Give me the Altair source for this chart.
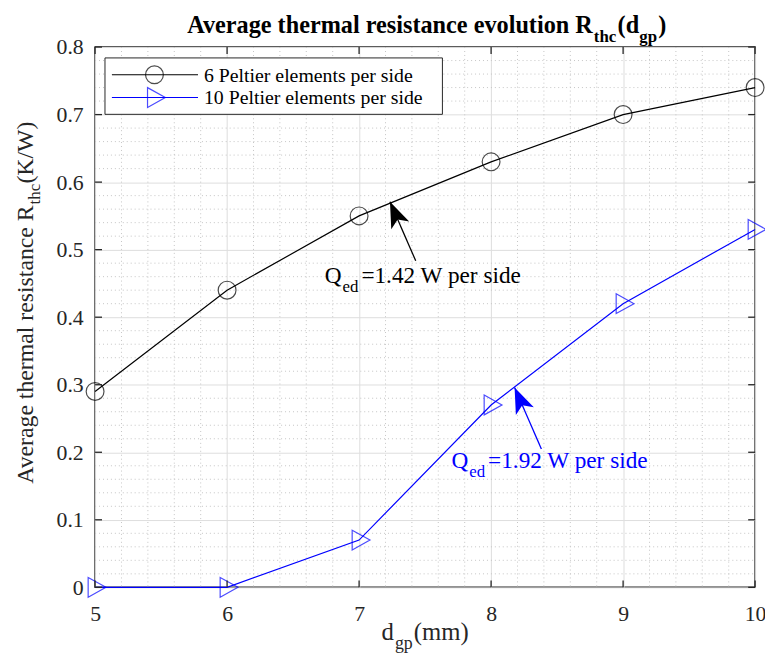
import altair as alt
import pandas as pd

# ---------------- data ----------------
x_dgp = [5, 6, 7, 8, 9, 10]
r_6 = [0.29, 0.44, 0.55, 0.63, 0.70, 0.74]
r_10 = [0.0, 0.0, 0.07, 0.27, 0.42, 0.53]
series_names = ["6 Peltier elements per side", "10 Peltier elements per side"]
series_colors = ["#000000", "#0000ff"]

x_major = [5, 6, 7, 8, 9, 10]
y_major = [0, 0.1, 0.2, 0.3, 0.4, 0.5, 0.6, 0.7, 0.8]
x_minor = [5.2, 5.4, 5.6, 5.8, 6.2, 6.4, 6.6, 6.8, 7.2, 7.4, 7.6, 7.8,
           8.2, 8.4, 8.6, 8.8, 9.2, 9.4, 9.6, 9.8]
y_minor = [0.02, 0.04, 0.06, 0.08, 0.12, 0.14, 0.16, 0.18, 0.22, 0.24, 0.26, 0.28,
           0.32, 0.34, 0.36, 0.38, 0.42, 0.44, 0.46, 0.48, 0.52, 0.54, 0.56, 0.58,
           0.62, 0.64, 0.66, 0.68, 0.72, 0.74, 0.76, 0.78]

# annotations (data units)
ann_text = ["=1.42 W per side", "=1.92 W per side"]
ann_x = [6.74, 7.70]
ann_y = [0.451, 0.176]
tip_x = [7.234, 8.178]
tip_y = [0.571, 0.296]
tail_x = [7.429, 8.381]
tail_y = [0.4835, 0.205]

SERIF = "Liberation Serif"
AX = "#262626"
W, H = 667, 546

df = pd.DataFrame({
    "d": x_dgp * 2,
    "r": r_6 + r_10,
    "s": [series_names[0]] * len(x_dgp) + [series_names[1]] * len(x_dgp),
})
ann = pd.DataFrame({"x": ann_x, "y": ann_y, "t": ann_text, "c": series_colors,
                    "tx": tip_x, "ty": tip_y, "ux": tail_x, "uy": tail_y})

xs = alt.Scale(domain=[5, 10], nice=False, zero=False)
ys = alt.Scale(domain=[0, 0.8], nice=False, zero=False)
one = pd.DataFrame({"k": [0]})

XAX = alt.Axis(values=x_major, title=None, grid=True, gridColor="#dedede", gridWidth=1,
               ticks=False, domain=False, labelFont=SERIF, labelFontSize=22,
               labelColor=AX, labelPadding=17, labelFlush=False, labelOverlap=False,
               format="d")
YAX = alt.Axis(values=y_major, title=None, grid=True, gridColor="#dedede", gridWidth=1,
               ticks=False, domain=False, labelFont=SERIF, labelFontSize=22,
               labelColor=AX, labelPadding=12, labelOverlap=False, format=".1~f")


def X(f):
    return alt.X(f, scale=xs, axis=XAX)


def Y(f):
    return alt.Y(f, scale=ys, axis=YAX)


# ---------------- grid ----------------
minor_x = alt.Chart(pd.DataFrame({"v": x_minor})).mark_rule(
    color="#c4c4c4", strokeDash=[1, 3], strokeWidth=1).encode(
    x=X("v:Q"), y=alt.value(0), y2=alt.value(H))
minor_y = alt.Chart(pd.DataFrame({"v": y_minor})).mark_rule(
    color="#c4c4c4", strokeDash=[1, 3], strokeWidth=1).encode(
    y=Y("v:Q"), x=alt.value(0), x2=alt.value(W))

# inward major ticks on all four sides
tk = dict(color=AX, strokeWidth=1.3)
tick_b = alt.Chart(pd.DataFrame({"v": x_major})).mark_rule(**tk).encode(
    x=X("v:Q"), y=alt.value(H), y2=alt.value(H - 7))
tick_t = alt.Chart(pd.DataFrame({"v": x_major})).mark_rule(**tk).encode(
    x=X("v:Q"), y=alt.value(0), y2=alt.value(7))
tick_l = alt.Chart(pd.DataFrame({"v": y_major})).mark_rule(**tk).encode(
    y=Y("v:Q"), x=alt.value(0), x2=alt.value(7))
tick_r = alt.Chart(pd.DataFrame({"v": y_major})).mark_rule(**tk).encode(
    y=Y("v:Q"), x=alt.value(W), x2=alt.value(W - 7))

# ---------------- data marks ----------------
color_scale = alt.Scale(domain=series_names, range=series_colors)
lines = alt.Chart(df).mark_line(strokeWidth=1.2).encode(
    x=X("d:Q"), y=Y("r:Q"),
    color=alt.Color("s:N", scale=color_scale, legend=None),
)
TRI = "M -0.7 -1 L 1.1 0 L -0.7 1 Z"
pts6 = alt.Chart(df).transform_filter(alt.datum.s == series_names[0]).mark_point(
    shape="circle", size=324, filled=False, strokeWidth=1.2, color=series_colors[0]).encode(
    x=X("d:Q"), y=Y("r:Q"))
pts10 = alt.Chart(df).transform_filter(alt.datum.s == series_names[1]).mark_point(
    shape=TRI, size=400, filled=False, strokeWidth=1.2, color=series_colors[1]).encode(
    x=X("d:Q"), y=Y("r:Q"))

# ---------------- annotations ----------------
ccol = alt.Color("c:N", scale=None, legend=None)
arrow_line = alt.Chart(ann).mark_rule(strokeWidth=1.3).encode(
    x=X("ux:Q"), y=Y("uy:Q"), x2="tx:Q", y2="ty:Q", color=ccol)
HEAD = "M 0 0 L 0.38 1 L 0 0.75 L -0.38 1 Z"
arrow_head = alt.Chart(ann).mark_point(shape=HEAD, size=2704, filled=True, opacity=1,
                                       angle=336.5, strokeWidth=0).encode(
    x=X("tx:Q"), y=Y("ty:Q"), color=ccol)
ann_q = alt.Chart(ann).mark_text(font=SERIF, fontSize=23.5, align="left",
                                 baseline="alphabetic").encode(
    x=X("x:Q"), y=Y("y:Q"), text=alt.value("Q"), color=ccol)
ann_sub = alt.Chart(ann).mark_text(font=SERIF, fontSize=17, align="left",
                                   baseline="alphabetic", dx=18, dy=9).encode(
    x=X("x:Q"), y=Y("y:Q"), text=alt.value("ed"), color=ccol)
ann_rest = alt.Chart(ann).mark_text(font=SERIF, fontSize=23.5, align="left",
                                    baseline="alphabetic", dx=37).encode(
    x=X("x:Q"), y=Y("y:Q"), text="t:N", color=ccol)

# ---------------- legend ----------------
leg_box = alt.Chart(one).mark_rect(fill="white", stroke=AX, strokeWidth=1).encode(
    x=alt.value(10), x2=alt.value(351), y=alt.value(11), y2=alt.value(68))
leg_layers = [leg_box]
for i, (name, col, ly) in enumerate(zip(series_names, series_colors, [28, 51])):
    leg_layers.append(alt.Chart(one).mark_rule(color=col, strokeWidth=1.2).encode(
        x=alt.value(17), x2=alt.value(104), y=alt.value(ly)))
    leg_layers.append(alt.Chart(one).mark_point(
        shape="circle" if i == 0 else TRI, size=324 if i == 0 else 400,
        filled=False, strokeWidth=1.2, color=col).encode(
        x=alt.value(60), y=alt.value(ly)))
    leg_layers.append(alt.Chart(one).mark_text(
        font=SERIF, fontSize=20, align="left", baseline="middle", color="black").encode(
        x=alt.value(110), y=alt.value(ly + 1), text=alt.value(name)))


# ---------------- titles (with subscripts) ----------------
def txt(s, x, y, size, bold=False, align="left", angle=0, color="black"):
    kw = dict(font=SERIF, fontSize=size, align=align, baseline="alphabetic",
              color=color, fontWeight="bold" if bold else "normal")
    if angle:
        kw["angle"] = angle
    return alt.Chart(one).mark_text(**kw).encode(
        x=alt.value(x), y=alt.value(y), text=alt.value(s))


title_parts = [
    txt("Average thermal resistance evolution R", 503, -14, 24.5, True, "right"),
    txt("thc", 504, -5, 17, True),
    txt("(d", 528, -14, 24.5, True),
    txt("gp", 550, -5, 17, True),
    txt(")", 569, -14, 24.5, True),
]
xlab_parts = [
    txt("d", 302, 599, 25, False, "right", color=AX),
    txt("gp", 303, 608, 18, False, color=AX),
    txt("(mm)", 322, 599, 25, False, color=AX),
]
ylab_parts = [
    txt("Average thermal resistance R", -63, 160, 24, False, "right", 270, AX),
    txt("thc", -56, 159, 17, False, "left", 270, AX),
    txt("(K/W)", -63, 138, 24, False, "left", 270, AX),
]

chart = alt.layer(
    minor_x, minor_y,
    lines, pts6, pts10,
    arrow_line, arrow_head, ann_q, ann_sub, ann_rest,
    *leg_layers,
    tick_b, tick_t, tick_l, tick_r,
    *title_parts, *xlab_parts, *ylab_parts,
).properties(
    width=W, height=H,
    autosize=alt.AutoSizeParams(type="none"),
    padding={"left": 88, "top": 36, "right": 10, "bottom": 73},
    background="white",
).configure_view(stroke=AX, strokeWidth=1.5)

chart.save("out.html", embed_options={"renderer": "svg", "actions": False})
